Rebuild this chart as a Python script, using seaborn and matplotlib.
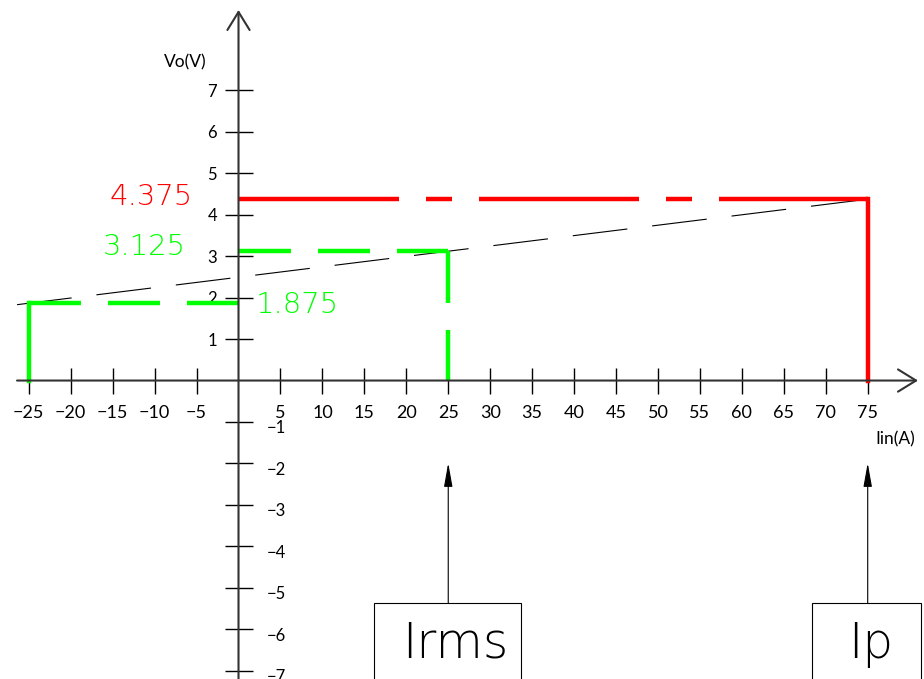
import matplotlib
matplotlib.use("Agg")
import matplotlib.pyplot as plt
from matplotlib.patches import Rectangle
import seaborn as sns
import pandas as pd

# ---- data ----
x_ticks_neg = [-25, -20, -15, -10, -5]
x_ticks_pos = [5, 10, 15, 20, 25, 30, 35, 40, 45, 50, 55, 60, 65, 70, 75]
y_ticks_pos = [1, 2, 3, 4, 5, 6, 7]
y_ticks_neg = [-1, -2, -3, -4, -5, -6, -7]

i_min, i_rms, i_peak = -25, 25, 75          # Iin (A)
v_min, v_rms, v_peak = 1.875, 3.125, 4.375  # Vo (V)

# transfer characteristic (thin dashed line) end points
line_i = [-26.4, 75]
line_v = [1.83, 4.375]

x_label = "Iin(A)"
y_label = "Vo(V)"
box_labels = ["Irms", "Ip"]

RED = "#ff0000"
GREEN = "#00ff00"
AX = "#333333"

sns.set_theme(style="white")
plt.rcParams["font.family"] = ["Lato", "DejaVu Sans"]
plt.rcParams["lines.scale_dashes"] = False
plt.rcParams["axes.unicode_minus"] = True

fig = plt.figure(figsize=(9.24, 6.79), dpi=100)
ax = fig.add_axes([0, 0, 1, 1])
ax.set_facecolor("white")

def seg(xs, ys, **kw):
    df = pd.DataFrame({"I": xs, "V": ys})
    sns.lineplot(data=df, x="I", y="V", sort=False, estimator=None, ax=ax, **kw)

PX = 0.72  # points per pixel at 100 dpi
red_dash = (0, (160 * PX, 27 * PX, 26 * PX, 27 * PX))
green_dash = (0, (52 * PX, 27 * PX))
black_dash = (0, (55 * PX, 25 * PX))

# thin dashed transfer line
seg(line_i, line_v, color="black", lw=0.8, linestyle=black_dash, dash_capstyle="butt")

# red: peak
seg([0, i_peak], [v_peak, v_peak], color=RED, lw=3.2, linestyle=red_dash, dash_capstyle="butt")
seg([i_peak, i_peak], [v_peak, 0], color=RED, lw=3.2, solid_capstyle="projecting")

# green: min and rms
seg([i_min, i_min], [0, v_min], color=GREEN, lw=3.2, solid_capstyle="projecting")
seg([i_min, 0], [v_min, v_min], color=GREEN, lw=3.2, linestyle=green_dash, dash_capstyle="butt")
seg([0, i_rms], [v_rms, v_rms], color=GREEN, lw=3.2, linestyle=green_dash, dash_capstyle="butt")
seg([i_rms, i_rms], [v_rms, 0], color=GREEN, lw=3.2, linestyle=green_dash, dash_capstyle="butt")

ax.set_xlim(-28.43, 81.71)
ax.set_ylim(-7.20, 9.18)
ax.set_xlabel("")
ax.set_ylabel("")

# axes through the origin
for s in ax.spines.values():
    s.set_visible(False)
ax.spines["bottom"].set_position(("data", 0))
ax.spines["left"].set_position(("data", 0))

arrow_kw = dict(arrowstyle="->,head_length=1.3,head_width=0.8", mutation_scale=10,
                lw=1.5, color=AX, shrinkA=0, shrinkB=0)
ax.annotate("", xy=(81.0, 0), xytext=(-26.4, 0), arrowprops=arrow_kw)
ax.annotate("", xy=(0, 8.94), xytext=(0, -7.6), arrowprops=arrow_kw)

ax.set_xticks(x_ticks_neg + x_ticks_pos)
ax.set_xticklabels([str(v).replace("-", "\u2212") for v in x_ticks_neg + x_ticks_pos])
ax.set_yticks(y_ticks_neg + y_ticks_pos)
ax.set_yticklabels([""] * len(y_ticks_neg) + [str(v) for v in y_ticks_pos])
ax.tick_params(axis="x", bottom=True, top=False, direction="inout", length=18.7, width=1.0,
               color="black", pad=8.6, labelsize=13, labelcolor="black")
ax.tick_params(axis="y", left=True, right=False, direction="inout", length=20, width=1.0,
               color="black", pad=5.5, labelsize=12, labelcolor="black")

for v in y_ticks_neg:
    ax.annotate(str(v).replace("-", "\u2212"), xy=(0, v), xytext=(20, -4.5),
                textcoords="offset points", ha="left", va="center", fontsize=12, color="black")

# axis titles
ax.text(-6.38, 7.68, y_label, ha="center", va="center", fontsize=12.5, color="black")
ax.text(78.3, -1.43, x_label, ha="center", va="center", fontsize=12.5, color="black")

# value labels
thin = dict(family=["DejaVu Sans"], fontweight="light")
ax.text(-5.42, v_peak + 0.05, f"{v_peak:.3f}", ha="right", va="center", fontsize=21,
        color=RED, **thin)
ax.text(-6.26, v_rms + 0.1, f"{v_rms:.3f}", ha="right", va="center", fontsize=21,
        color=GREEN, **thin)
ax.text(2.09, v_min - 0.05, f"{v_min:.3f}", ha="left", va="center", fontsize=21,
        color=GREEN, **thin)

# callout boxes with arrows
pointer_kw = dict(arrowstyle="-|>,head_length=1.45,head_width=0.26", mutation_scale=10,
                  lw=0.8, color="black", shrinkA=0, shrinkB=0)
for xc, (x0, x1), lab, tx in [(i_rms, (16.2, 33.7), box_labels[0], 25.8),
                               (i_peak, (68.4, 81.4), box_labels[1], 75.4)]:
    ax.add_patch(Rectangle((x0, -8.5), x1 - x0, 8.5 - 5.37, fill=False, ec="black", lw=0.8))
    ax.annotate("", xy=(xc, -1.99), xytext=(xc, -5.37), arrowprops=pointer_kw)
    ax.text(tx, -6.69, lab, ha="center", va="baseline", fontsize=35, color="black", **thin)

fig.savefig("out.png", dpi=100, facecolor="white")
